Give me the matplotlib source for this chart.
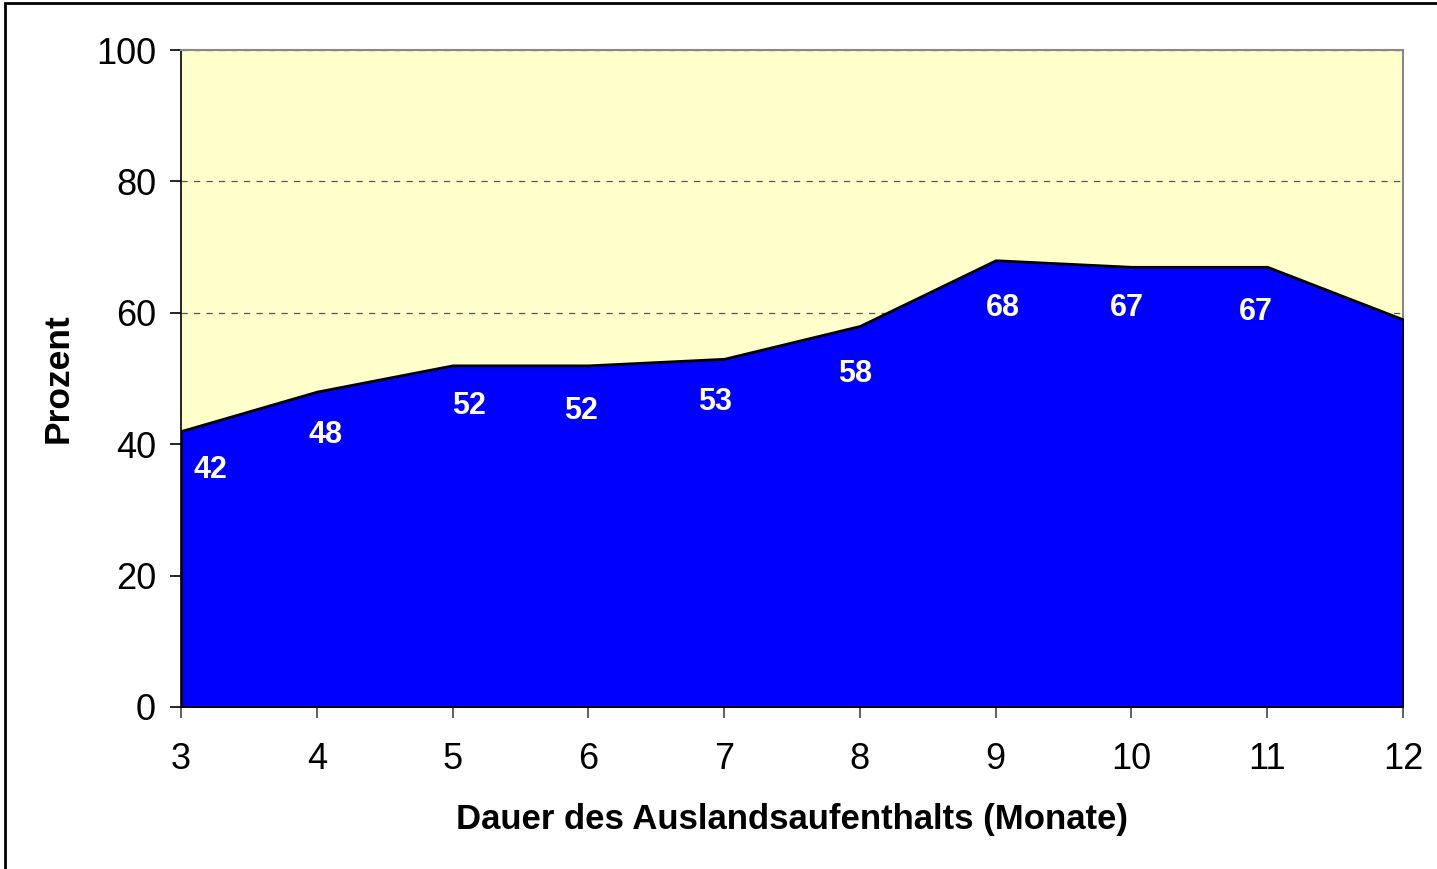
import matplotlib.pyplot as plt
from matplotlib.patches import Rectangle

plt.rcParams['font.family'] = ['Liberation Sans', 'DejaVu Sans']

# Dauer in Monaten vs. Prozent
months = [3, 4, 5, 6, 7, 8, 9, 10, 11, 12]
percent = [42, 48, 52, 52, 53, 58, 68, 67, 67, 59]
labelled = [True] * 9 + [False]

# small label shifts (pixels), as in the original layout
label_dx = [29, 9, 16, -7, -9, -5, 7, -5, -11, 0]
label_dy = [-39, -43, -41, -46, -43, -48, -48, -41, -45, 0]

fig = plt.figure(figsize=(14.37, 8.69), dpi=100)
ax = fig.add_axes([181 / 1437, 1 - 707 / 869, 1222 / 1437, 657 / 869])
ax.set_facecolor('#FFFFCC')

ax.fill_between(months, percent, 0, facecolor='#0000FF', edgecolor='black',
                linewidth=2, zorder=3)

ax.set_xlim(3, 12)
ax.set_ylim(0, 100)
ax.set_xticks(months)
ax.set_yticks(range(0, 101, 20))
ax.grid(axis='y', color='#555555', linestyle=(0, (5, 5)), linewidth=0.9, zorder=1)
ax.set_axisbelow(True)

for side in ['top', 'right']:
    ax.spines[side].set_color('#888888')
    ax.spines[side].set_linewidth(1.5)
for side in ['left', 'bottom']:
    ax.spines[side].set_color('black')
    ax.spines[side].set_linewidth(1.2)
ax.spines['bottom'].set_zorder(4)

ax.tick_params(axis='both', direction='out', length=8, width=1.2,
               labelsize=26, colors='black')
ax.tick_params(axis='x', pad=17, color='#444444')
ax.tick_params(axis='y', pad=10)

ax.set_xlabel('Dauer des Auslandsaufenthalts (Monate)', fontsize=25,
              fontweight='bold', labelpad=19)
ax.set_ylabel('Prozent', fontsize=25.5, fontweight='bold', labelpad=15)

for x, y, show, dx, dy in zip(months, percent, labelled, label_dx, label_dy):
    if show:
        ax.annotate(str(y), (x, y), xytext=(dx * 0.72, dy * 0.72),
                    textcoords='offset points', ha='center', va='center',
                    color='white', fontsize=22, fontweight='bold', zorder=5)

# outer chart frame
fig.patches.append(Rectangle((5 / 1437, -0.01), 1.02, 1 - 3 / 869 + 0.01,
                             transform=fig.transFigure, fill=False,
                             edgecolor='black', linewidth=2))

fig.savefig('out.png', dpi=100)
